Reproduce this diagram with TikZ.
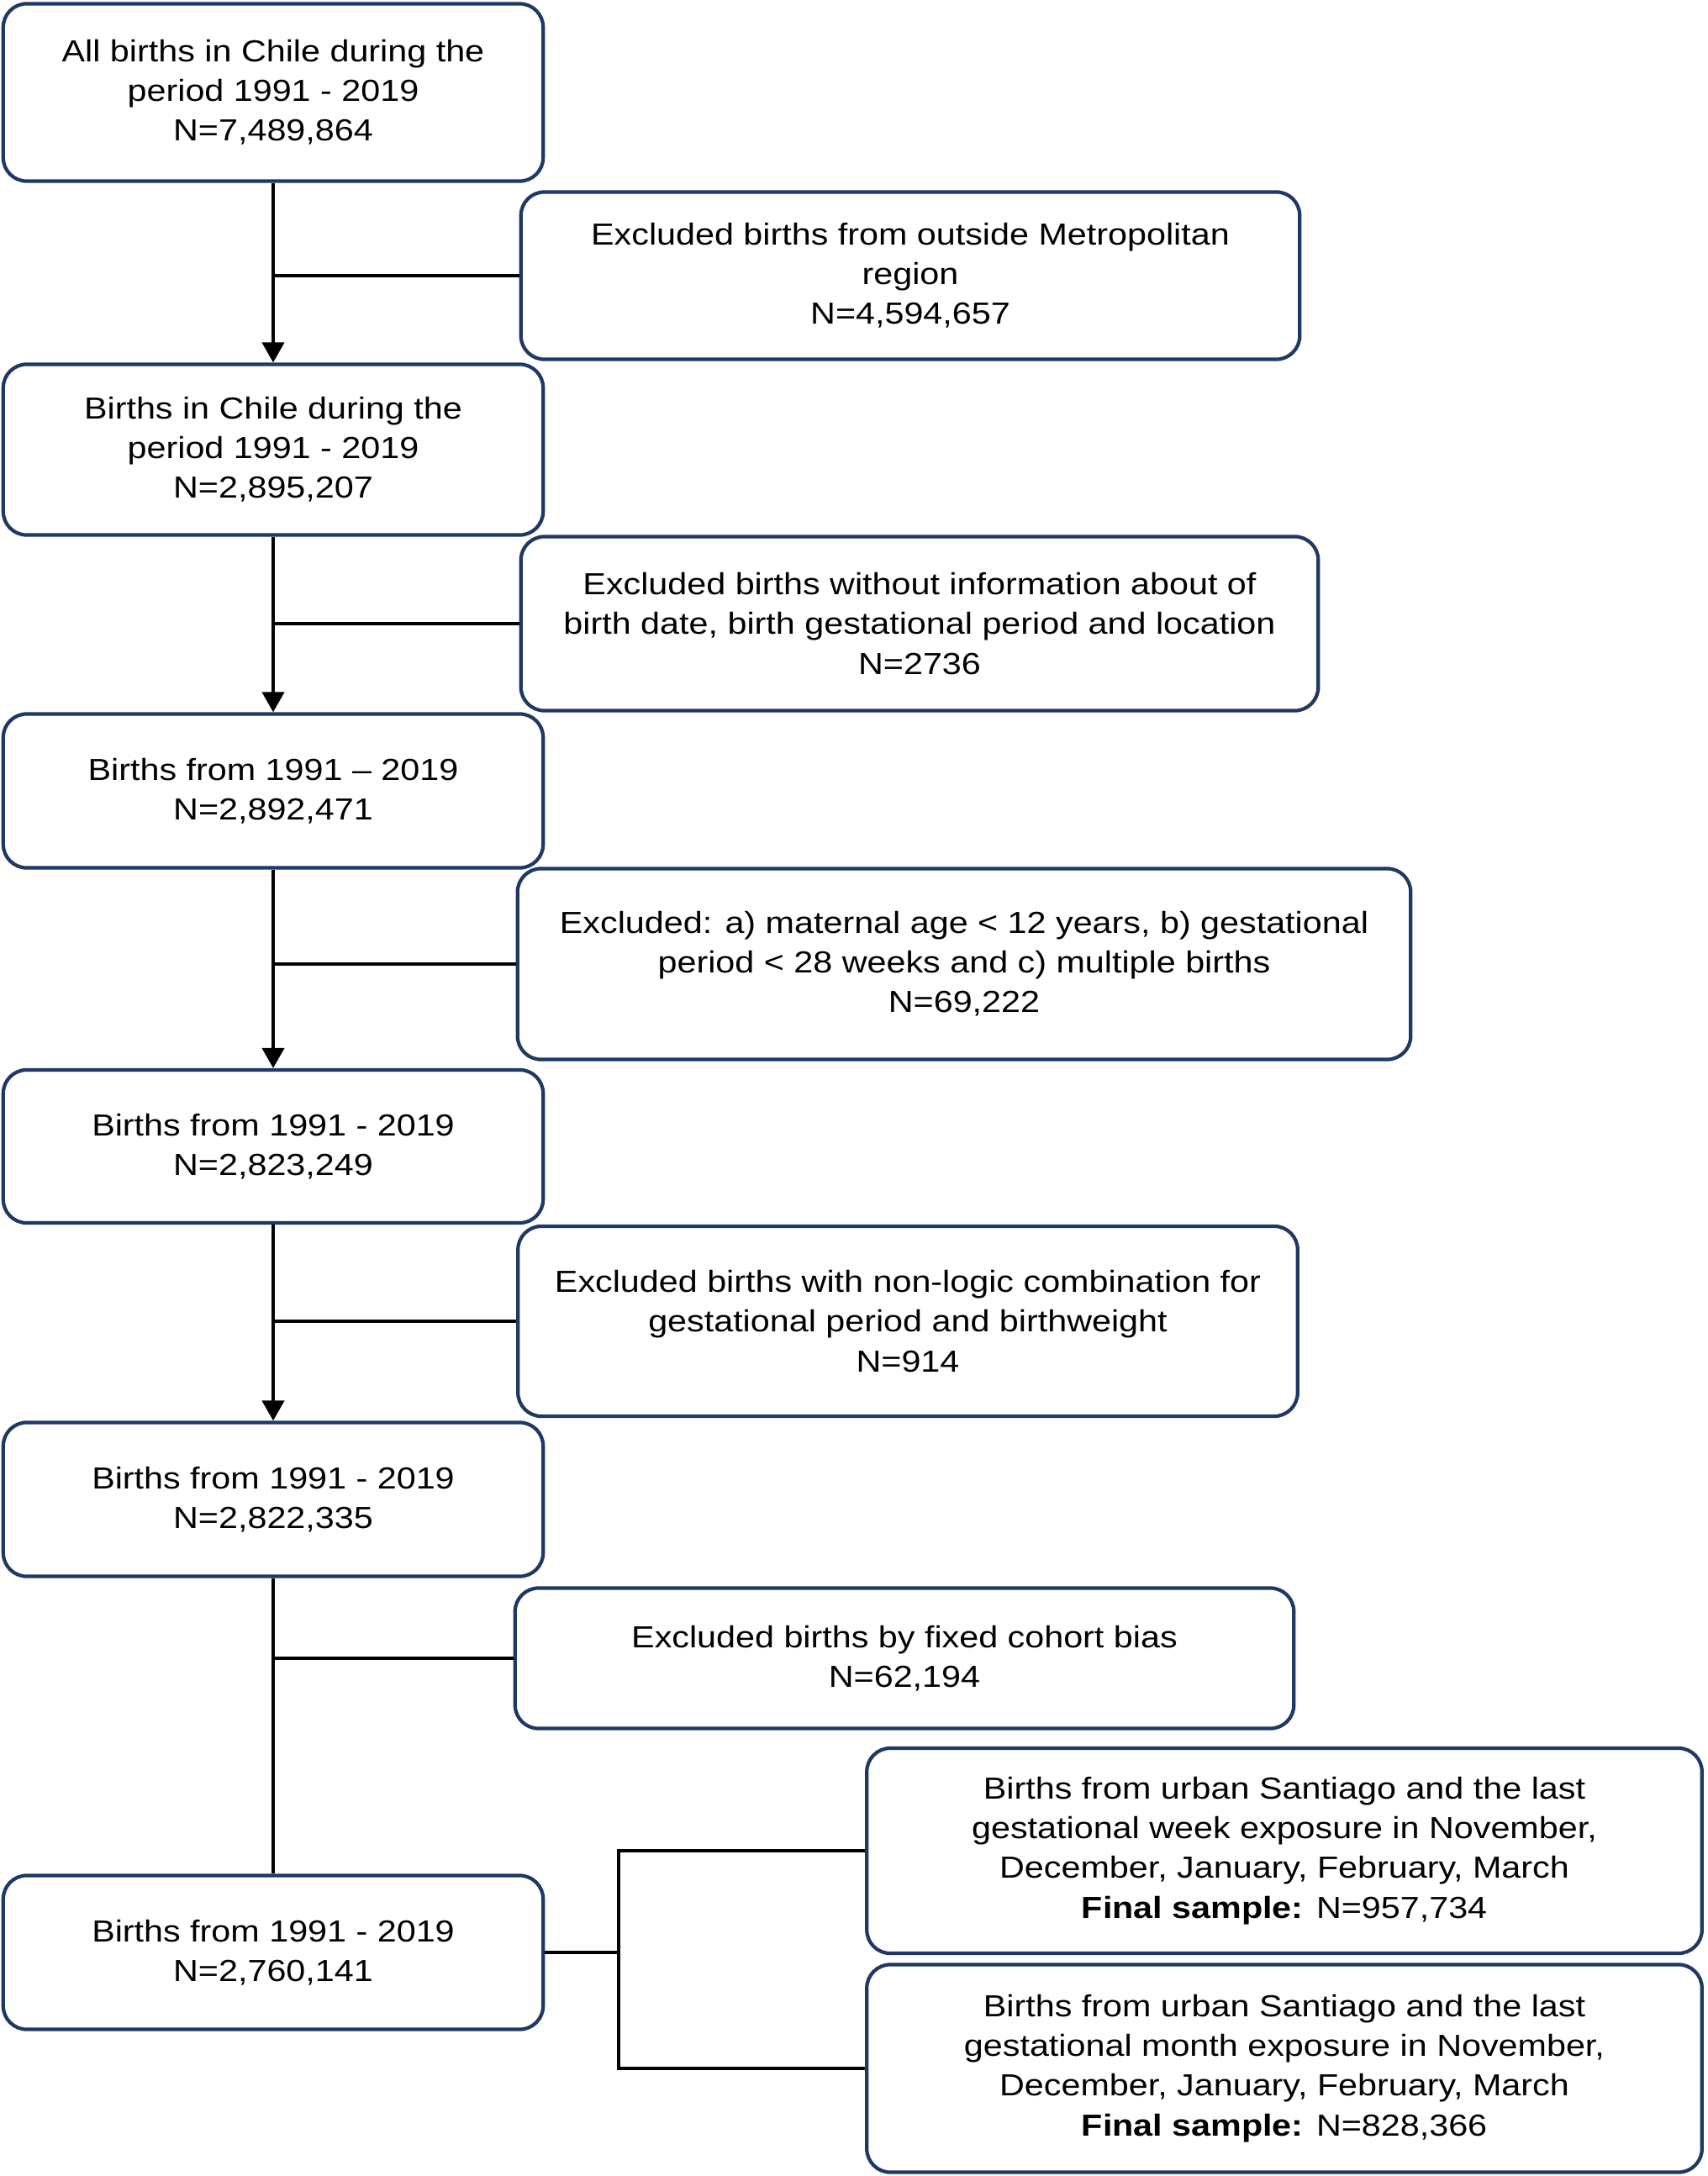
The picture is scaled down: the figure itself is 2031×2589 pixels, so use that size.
\documentclass[tikz,border=0pt]{standalone}
\usepackage{fontspec}
\setmainfont{Liberation Sans}[FakeStretch=1.14]
\usetikzlibrary{arrows.meta}
\definecolor{boxnavy}{RGB}{31,56,100}
\tikzset{
  box/.style={draw=boxnavy, line width=1.2pt, rounded corners=0.28cm, align=center,
    inner sep=0pt, font=\fontsize{10.3}{13.4}\selectfont},
  flow/.style={line width=1.1pt, -{Triangle[length=6.8pt,width=7.4pt]}},
  link/.style={line width=1.1pt}
}
\begin{document}
\begin{tikzpicture}[x=0.01cm, y=-0.01cm]
    \useasboundingbox (0,0) rectangle (2031,2589);

    % Draw the boxes on the left
    \node[box, minimum width=6.42cm, minimum height=2.11cm] (allbirths) at (325,110) {All births in Chile during the\\period 1991 - 2019\\N=7,489,864};
    \node[box, minimum width=6.42cm, minimum height=2.03cm] (chile) at (325,535) {Births in Chile during the\\period 1991 - 2019\\N=2,895,207};
    \node[box, minimum width=6.42cm, minimum height=1.83cm] (dated) at (325,941) {Births from 1991 -- 2019\\N=2,892,471};
    \node[box, minimum width=6.42cm, minimum height=1.82cm] (valid) at (325,1364) {Births from 1991 - 2019\\N=2,823,249};
    \node[box, minimum width=6.42cm, minimum height=1.83cm] (logic) at (325,1784) {Births from 1991 - 2019\\N=2,822,335};
    \node[box, minimum width=6.42cm, minimum height=1.83cm] (study) at (325,2323) {Births from 1991 - 2019\\N=2,760,141};

    % Exclusion boxes
    \node[box, minimum width=9.26cm, minimum height=1.99cm] (exmetro) at (1083,328) {Excluded births from outside Metropolitan\\region\\N=4,594,657};
    \node[box, minimum width=9.48cm, minimum height=2.07cm] (exinfo) at (1094,742) {Excluded births without information about of\\birth date, birth gestational period and location\\N=2736};
    \node[box, minimum width=10.62cm, minimum height=2.27cm] (exage) at (1147,1147) {Excluded: a) maternal age < 12 years, b) gestational\\period < 28 weeks and c) multiple births\\N=69,222};
    \node[box, minimum width=9.27cm, minimum height=2.26cm] (exlogic) at (1080,1572) {Excluded births with non-logic combination for\\gestational period and birthweight\\N=914};
    \node[box, minimum width=9.26cm, minimum height=1.67cm] (excohort) at (1076,1973) {Excluded births by fixed cohort bias\\N=62,194};

    % Final samples
    \node[box, minimum width=9.93cm, minimum height=2.44cm] (week) at (1528,2202) {Births from urban Santiago and the last\\gestational week exposure in November,\\December, January, February, March\\\textbf{Final sample:} N=957,734};
    \node[box, minimum width=9.93cm, minimum height=2.47cm] (month) at (1528,2461) {Births from urban Santiago and the last\\gestational month exposure in November,\\December, January, February, March\\\textbf{Final sample:} N=828,366};

    % Arrows down the left column
    \draw[flow] (allbirths.south) -- (chile.north);
    \draw[flow] (chile.south) -- (dated.north);
    \draw[flow] (dated.south) -- (valid.north);
    \draw[flow] (valid.south) -- (logic.north);
    \draw[link] (logic.south) -- (study.north);

    % Branches to the excluded births
    \draw[link] (exmetro.west) -- (exmetro.west -| allbirths.south);
    \draw[link] (exinfo.west) -- (exinfo.west -| chile.south);
    \draw[link] (exage.west) -- (exage.west -| dated.south);
    \draw[link] (exlogic.west) -- (exlogic.west -| valid.south);
    \draw[link] (excohort.west) -- (excohort.west -| logic.south);

    % Split into the two final samples
    \draw[link] (study.east) -- ++(88,0) coordinate (fork);
    \draw[link] (week.west) -| (fork) |- (month.west);
\end{tikzpicture}
\end{document}
